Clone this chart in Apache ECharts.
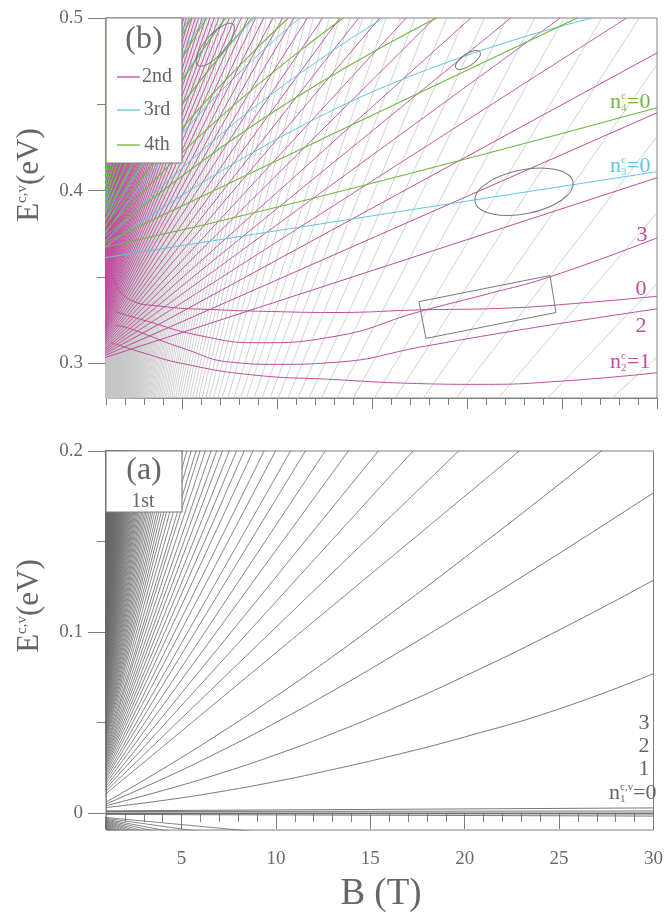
<!DOCTYPE html>
<html><head><meta charset="utf-8">
<script src="https://cdn.jsdelivr.net/npm/echarts@6/dist/echarts.min.js"></script>
<style>html,body{margin:0;padding:0;background:#fff}#c{width:666px;height:915px}</style>
</head><body><div id="c"></div>
<script>
// ---------------- data ----------------
const xMajorTicks = [5, 10, 15, 20, 25, 30];
const xMinorTicks = [1,2,3,4,5,6,7,8,9,10,11,12,13,14,15,16,17,18,19,20,21,22,23,24,25,26,27,28,29,30];
const yTopLabels = [0.3, 0.4, 0.5];
const yTopMinor = [0.35, 0.45];
const yBotLabels = [0, 0.1, 0.2];
const yBotMinor = [0.05, 0.15];

// 1st group, lowest conduction levels (B, E)
const g1n1 = [[1,0.003],[4,0.0069],[7,0.0117],[10,0.0174],[13,0.024],[16,0.0312],[20,0.042],[25,0.0575],[30,0.077]];
const g1n2 = [[1,0.004],[4,0.0124],[7,0.0217],[10,0.0322],[13,0.0439],[16,0.0568],[20,0.0756],[25,0.1011],[30,0.1286]];
const g1n3 = [[1,0.005],[4,0.0188],[7,0.0338],[10,0.05],[13,0.0674],[16,0.0857],[20,0.1109],[25,0.1434],[30,0.1769]];
const g1n4 = [[1,0.006],[4,0.0243],[7,0.0438],[10,0.0645],[13,0.0864],[16,0.1095],[20,0.1411],[25,0.1816],[30,0.2231]];
// 1st group, higher levels: slope (meV/T) of each level, n = 5, 6, ...
const g1Slope = [8.65,10.06,11.47,12.84,14.31,15.7,17.13,18.38,19.84,21.13,22.53,23.8,25.03,26.3,27.62,28.86,30.18,31.63,33.11,34.32,35.93,37.5,39.05,
40.4,41.8,43.2,44.5,45.9,47.3,48.6,50.0,51.4,52.8,54.1,55.5,56.9,58.2,59.6,61.0,62.4,63.7,65.1,66.5,67.8,69.2,70.6,72.0,73.3,74.7,76.1,77.4,78.8,80.2,
81.6,82.9,84.3,85.7,87.0,88.4,89.8,91.2,92.5,93.9,95.3,96.6,98.0,99.4,100.8,102.1,103.5,104.9,106.2,107.6,109.0,110.4,111.7,113.1,114.5,115.8,117.2,118.6,120.0,121.3,
122.7,124.1,125.4,126.8,128.2,129.6,130.9,132.3,133.7,135.0,136.4,137.8,139.2,140.5,141.9,143.3,144.6,146.0,147.4,148.8,150.1,151.5,152.9,154.2,155.6,157.0,158.4,159.7,161.1,162.5,
163.8,165.2,166.6,168.0,169.3,170.7,172.1,173.4,174.8,176.2,177.6,178.9,180.3,181.7,183.0,184.4,185.8,187.2,188.5,189.9,191.3,192.6,194.0,195.4,196.8,198.1,199.5,200.9,202.2,203.6,
205.0,206.4,207.7,209.1,210.5,211.8,213.2,214.6,216.0,217.3,218.7,220.1,221.4,222.8,224.2,225.6,226.9,228.3,229.7,231.0,232.4,233.8,235.2,236.5,237.9,239.3,240.6,242.0,243.4,244.8,
246.1,247.5,248.9,250.2,251.6,253.0,254.4,255.7,257.1,258.5,259.8,261.2,262.6,264.0,265.3,266.7,268.1,269.4,270.8,272.2,273.6,274.9,276.3,277.7,279.0,280.4,281.8,283.2,284.5,285.9,
287.3,288.6,290.0,291.4,292.8,294.1,295.5];
const g1Origin = 0.002;           // common energy of the fan at B = 0
// n1 = 0 levels near zero: energy at B = 1 and at B = 30
const g1ZeroAt1  = [0.0012, 0.0008, 0.0, -0.0003, -0.0008];
const g1ZeroAt30 = [0.0028, 0.0011, 0.0, -0.0006, -0.0017];
// valence levels: B where each leaves the bottom edge (E = -0.0094), starting at E = -0.0015
const g1ValExitB = [8.05,5.4,4.0,3.3,2.8,2.45,2.2,1.98,1.8,1.65,1.52,1.42,1.33,1.25,1.18,1.12,1.06];

// 2nd group (magenta)
const g2n0 = [[1.3,0.352],[2.1,0.338],[4,0.333],[6.6,0.3312],[10,0.330],[13,0.3295],[17.5,0.331],[22,0.332],[26,0.335],[30,0.3389]];
const g2n1 = [[1.3,0.312],[3,0.306],[5,0.300],[8.6,0.2935],[13,0.2907],[17,0.2885],[20.8,0.2879],[25,0.2898],[30,0.2946]];
const g2n2 = [[1.5,0.322],[2.1,0.3208],[5,0.309],[7.7,0.3006],[10,0.2995],[13,0.3006],[17.8,0.310],[22,0.318],[26,0.325],[30,0.3316]];
const g2n3 = [[1.5,0.330],[3,0.325],[6,0.316],[9,0.312],[13,0.3156],[17.5,0.330],[21,0.340],[24.4,0.3503],[30,0.3727]];
const g2Origin = 0.30;
const g2RightE = [0.4075, 0.4451, 0.4798];   // n = 4..6 at B = 30
const g2ExitB = [28.4,24.9,22.3,20.2,18.3,16.8,15.4,14.3,13.3,12.4,11.6,10.9,10.3,9.79,9.31,8.88,8.48,8.12,7.79,7.49,7.20,6.94,6.70,6.47,6.26,6.06,5.87,5.70,5.53,5.38,
5.23,5.09,4.96,4.83,4.71,4.60,4.49,4.39,4.29,4.20,4.11,4.02,3.94,3.86,3.78,3.71,3.64,3.57,3.50,3.44,3.38,3.32,3.26,3.21,3.16,3.10,3.05,3.01,2.96,2.91,
2.87,2.83,2.79,2.75,2.71,2.67,2.63,2.60,2.56,2.53,2.50,2.46,2.43,2.40,2.37,2.34,2.31,2.29,2.26,2.23,2.21,2.18,2.16,2.13,2.11,2.09,2.06,2.04,2.02,2.00,
1.98,1.96,1.94,1.92,1.90,1.88,1.86,1.84,1.82,1.81,1.79,1.77,1.76,1.74,1.72,1.71,1.69,1.68,1.66,1.65,1.64,1.62,1.61,1.60,1.58,1.57,1.56,1.54,1.53,1.52,
1.51,1.50,1.48,1.47,1.46,1.45,1.44,1.43,1.42,1.41,1.40,1.39,1.38,1.37,1.36,1.35,1.34,1.33,1.32,1.31,1.30,1.30,1.29,1.28,1.27,1.26,1.25,1.25,1.24,1.23,1.22,1.22,1.21,1.20];

// 3rd group (cyan)
const g3n0 = [[0,0.3596],[13,0.382],[20,0.394],[30,0.411]];
const g3Origin = 0.36;
const g3ExitB = [26.6,15.6,11.2,8.8,7.3,6.2,5.4,4.8,4.3,3.9,3.55,3.25,3.0,2.8,2.6,2.45,2.3,2.17,2.05,1.95,1.85,1.76,1.68,1.6,1.53,1.47,1.41,1.35,1.3,1.25,1.2,1.15,1.1,1.06,1.02];
const g3MidE = [0.4486, 0.4395, 0.4405];

// 4th group (green)
const g4n0 = [[0,0.365],[11.6,0.3948],[30,0.448]];
const g4Origin = 0.365;
const g4ExitB = [25.8,18.4,13.5,10.6,8.7,7.3,6.3,5.5,4.9,4.4,4.0,3.6,3.3,3.05,2.8,2.6,2.4,2.25,2.1,1.97,1.85,1.75,1.65,1.55,1.47,1.4,1.33,1.27,1.21,1.15,1.1,1.05];
const g4MidE = [0.4327, 0.4412, 0.44];

// annotation shapes (data coordinates)
const boxCorners = [[17.47,0.3358],[24.37,0.3509],[24.68,0.3295],[17.84,0.3145],[17.47,0.3358]];
const ellipseCenters = [[6.75,0.4845],[20.05,0.4757],[23.0,0.3994]];

// ---------------- styles ----------------
const FONT = '"Liberation Serif","DejaVu Serif",serif';
const C_MAG = '#c24b9f', C_CYAN = '#5ec6e0', C_GREEN = '#6fb83c';
const C_GT = '#c6c6c6', C_GB = '#6a6a6a', C_AX = '#808080', C_TXT = '#6a6a6a';

const chart = echarts.init(document.getElementById('c'));
const series = [];
function addLine(data, grid, color, width, smooth, z) {
  series.push({
    type: 'line', xAxisIndex: grid === 0 ? 0 : 2, yAxisIndex: grid === 0 ? 0 : 2,
    data: data, symbol: 'none', showSymbol: false, smooth: smooth ? 0.5 : false,
    lineStyle: { color: color, width: width }, silent: true, animation: false,
    z: z || 2, clip: true
  });
}

// bottom panel (a)
[g1n1, g1n2, g1n3, g1n4].forEach(d => addLine(d, 1, C_GB, 0.9, true));
g1Slope.forEach(k => addLine([[0, g1Origin], [30, g1Origin + k * 0.03]], 1, C_GB, 0.8, false));
g1ZeroAt1.forEach((e, i) => addLine([[1, e], [30, g1ZeroAt30[i]]], 1, C_GB, 0.9, false));
g1ValExitB.forEach(b => addLine([[0, -0.0015], [b, -0.0094], [2 * b, -0.0173]], 1, C_GB, 0.8, false));

// top panel (b): 1st group in light gray
g1Slope.forEach(k => addLine([[0, g1Origin], [30, g1Origin + k * 0.03]], 0, C_GT, 0.8, false));
// 2nd group
[g2n0, g2n1, g2n2, g2n3].forEach(d => addLine(d, 0, C_MAG, 1, true, 3));
g2RightE.forEach(e => addLine([[0, g2Origin], [30, e]], 0, C_MAG, 1, false, 3));
g2ExitB.forEach(b => addLine([[0, g2Origin], [b, 0.5]], 0, C_MAG, 0.9, false, 3));
// 3rd group
addLine(g3n0, 0, C_CYAN, 1, true, 4);
g3ExitB.forEach((b, i) => addLine([[0, g3Origin], [b / 2, g3MidE[Math.min(i, 2)]], [b, 0.5]], 0, C_CYAN, 1, true, 4));
// 4th group
addLine(g4n0, 0, C_GREEN, 1.1, true, 5);
g4ExitB.forEach((b, i) => addLine([[0, g4Origin], [b / 2, g4MidE[Math.min(i, 2)]], [b, 0.5]], 0, C_GREEN, 1.1, true, 5));
// rectangle annotation
addLine(boxCorners, 0, '#7a7a7a', 1, false, 6);

function xAxisPair(grid, labels) {
  return [
    { type: 'value', gridIndex: grid, min: 1, max: 30, position: 'bottom',
      axisLine: { show: true, lineStyle: { color: C_AX, width: 1 } },
      axisTick: { show: true, customValues: xMajorTicks, length: grid === 0 ? 11 : 16, lineStyle: { color: C_AX } },
      axisLabel: labels ? { show: true, customValues: xMajorTicks, margin: 20, color: C_TXT, fontSize: 19, fontFamily: FONT } : { show: false },
      splitLine: { show: false } },
    { type: 'value', gridIndex: grid, min: 1, max: 30, position: 'bottom',
      axisLine: { show: false },
      axisTick: { show: true, customValues: xMinorTicks, length: grid === 0 ? 7 : 9, lineStyle: { color: C_AX } },
      axisLabel: { show: false }, splitLine: { show: false } }
  ];
}
function yAxisPair(grid, min, max, lab, minor) {
  return [
    { type: 'value', gridIndex: grid, min: min, max: max, position: 'left',
      axisLine: { show: true, lineStyle: { color: C_AX, width: 1 } },
      axisTick: { show: true, customValues: lab, length: 18, lineStyle: { color: C_AX } },
      axisLabel: { show: true, customValues: lab, margin: 23, color: C_TXT, fontSize: 19, fontFamily: FONT,
        formatter: v => (Math.abs(v) < 1e-9 ? '0' : v.toFixed(1)) },
      splitLine: { show: false } },
    { type: 'value', gridIndex: grid, min: min, max: max, position: 'left', offset: 0,
      axisLine: { show: false },
      axisTick: { show: true, customValues: minor, length: 9, lineStyle: { color: C_AX } },
      axisLabel: { show: false }, splitLine: { show: false } }
  ];
}

const option = {
  animation: false,
  backgroundColor: '#fff',
  grid: [
    { left: 106, right: 9, top: 18, height: 380, show: true, borderColor: C_AX, borderWidth: 1, backgroundColor: 'transparent' },
    { left: 106, right: 9, top: 451, height: 379, show: true, borderColor: C_AX, borderWidth: 1, backgroundColor: 'transparent' }
  ],
  xAxis: [...xAxisPair(0, false), ...xAxisPair(1, true)],
  yAxis: [...yAxisPair(0, 0.28, 0.5, yTopLabels, yTopMinor), ...yAxisPair(1, -0.0094, 0.2, yBotLabels, yBotMinor)],
  series: series
};
chart.setOption(option);

// ---------------- annotations ----------------
const px = (g, p) => chart.convertToPixel({ gridIndex: g }, p);
const tl = px(0, [1, 0.5]);
const bl = px(1, [1, 0.2]);
const T = (text, x, y, size, color, extra) => Object.assign({
  type: 'text', x: x, y: y, z: 100,
  style: { text: text, fontSize: size, fontFamily: FONT, fill: color, align: 'center', verticalAlign: 'middle' }
}, extra || {});
function nLabel(x, y, sub, sup, rest, color) {
  const els = [];
  els.push({ type: 'text', x: x, y: y, z: 100, style: { text: 'n', fontSize: 22, fontFamily: FONT, fill: color, align: 'left', verticalAlign: 'middle' } });
  els.push({ type: 'text', x: x + 11, y: y - 6, z: 100, style: { text: sup, fontSize: 11, fontFamily: FONT, fill: color, align: 'left', verticalAlign: 'middle' } });
  els.push({ type: 'text', x: x + 11, y: y + 6, z: 100, style: { text: sub, fontSize: 11, fontFamily: FONT, fill: color, align: 'left', verticalAlign: 'middle' } });
  els.push({ type: 'text', x: x + 11 + (sup.length > 1 ? 13 : 6), y: y, z: 100, style: { text: rest, fontSize: 22, fontFamily: FONT, fill: color, align: 'left', verticalAlign: 'middle' } });
  return els;
}
const ellSizes = [[27, 10, 0.86], [14.5, 6, 0.59], [50, 22, 0.2]];
const graphics = [];
graphics.push({ type: 'rect', z: 99, shape: { x: tl[0], y: tl[1], width: 76, height: 145 }, style: { fill: '#fff', stroke: C_AX, lineWidth: 1.2 } });
graphics.push(T('(b)', tl[0] + 38, tl[1] + 22, 32, '#666'));
[['2nd', C_MAG, 59], ['3rd', C_CYAN, 92], ['4th', C_GREEN, 127]].forEach(([t, c, dy]) => {
  graphics.push({ type: 'line', z: 100, shape: { x1: tl[0] + 11, y1: tl[1] + dy, x2: tl[0] + 34, y2: tl[1] + dy }, style: { stroke: c, lineWidth: 1.3 } });
  graphics.push(T(t, tl[0] + 51, tl[1] + dy, 20, '#666'));
});
graphics.push({ type: 'rect', z: 99, shape: { x: bl[0], y: bl[1], width: 76, height: 61 }, style: { fill: '#fff', stroke: C_AX, lineWidth: 1.2 } });
graphics.push(T('(a)', bl[0] + 38, bl[1] + 20, 32, '#666'));
graphics.push(T('1st', bl[0] + 37, bl[1] + 51, 20, '#666'));
ellipseCenters.forEach((c, i) => {
  const p = px(0, c);
  graphics.push({ type: 'ellipse', z: 98, x: p[0], y: p[1], rotation: ellSizes[i][2],
    shape: { cx: 0, cy: 0, rx: ellSizes[i][0], ry: ellSizes[i][1] }, style: { fill: 'none', stroke: '#7a7a7a', lineWidth: 1 } });
});
graphics.push(...nLabel(610, 102, '4', 'c', '=0', C_GREEN));
graphics.push(...nLabel(610, 166, '3', 'c', '=0', C_CYAN));
graphics.push(T('3', 642, 235, 22, C_MAG));
graphics.push(T('0', 641, 289, 22, C_MAG));
graphics.push(T('2', 641, 326, 22, C_MAG));
graphics.push(...nLabel(610, 362, '2', 'c', '=1', C_MAG));
graphics.push(T('3', 644, 723, 22, '#666'));
graphics.push(T('2', 644, 746, 22, '#666'));
graphics.push(T('1', 644, 769, 22, '#666'));
graphics.push(...nLabel(609, 793, '1', 'c,v', '=0', '#666'));
const yName = (y) => ({ type: 'text', x: 30, y: y, rotation: Math.PI / 2, z: 100,
  style: { text: '{e|E}{s|c,v}{e|(eV)}', fontFamily: FONT, fill: '#666', align: 'center', verticalAlign: 'middle',
    rich: { e: { fontSize: 31, fontFamily: FONT, fill: '#666' }, s: { fontSize: 15, fontFamily: FONT, fill: '#666', verticalAlign: 'top', lineHeight: 30 } } } });
graphics.push(yName(175), yName(606));
graphics.push(T('B (T)', 381, 894, 37, '#666'));

chart.setOption({ graphic: { elements: graphics } });
</script></body></html>
